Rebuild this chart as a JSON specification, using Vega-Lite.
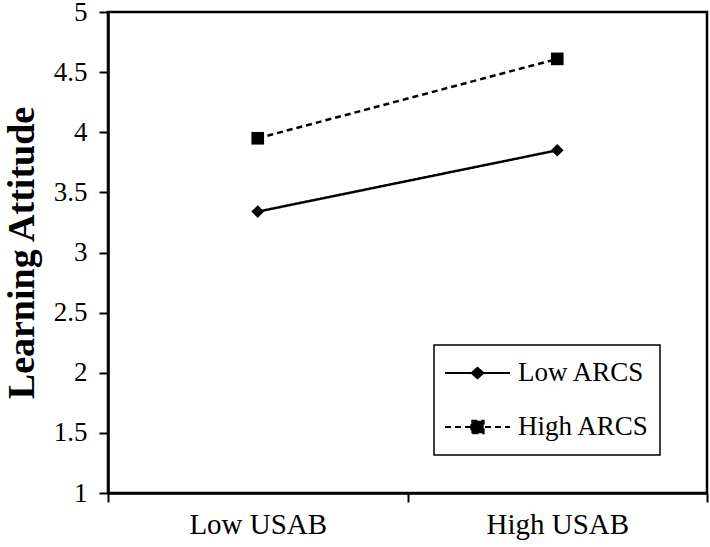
{
  "$schema": "https://vega.github.io/schema/vega-lite/v6.json",
  "width": 599,
  "height": 481,
  "autosize": {"type": "none"},
  "padding": {"left": 108, "top": 12, "right": 3, "bottom": 54},
  "background": "white",
  "config": {
    "view": {"stroke": "black", "strokeWidth": 2.5},
    "font": "Liberation Serif",
    "legend": {
      "title": null,
      "orient": "none",
      "legendX": 326,
      "legendY": 333,
      "strokeColor": "black",
      "strokeWidth": 1.5,
      "fillColor": "white",
      "padding": 10,
      "symbolSize": 4225,
      "symbolStrokeWidth": 2,
      "clipHeight": 36,
      "rowPadding": 18,
      "labelOffset": 7,
      "labelFont": "Liberation Serif",
      "labelFontSize": 27,
      "labelColor": "black",
      "labelLimit": 300
    }
  },
  "data": {
    "values": [
      {"usab": "Low USAB", "series": "Low ARCS", "value": 3.34},
      {"usab": "High USAB", "series": "Low ARCS", "value": 3.85},
      {"usab": "Low USAB", "series": "High ARCS", "value": 3.95},
      {"usab": "High USAB", "series": "High ARCS", "value": 4.61}
    ]
  },
  "encoding": {
    "x": {
      "field": "usab",
      "type": "nominal",
      "sort": ["Low USAB", "High USAB"],
      "scale": {"type": "band", "domain": ["Low USAB", "High USAB"], "paddingInner": 0, "paddingOuter": 0},
      "axis": {
        "title": null,
        "labelAngle": 0,
        "tickBand": "extent",
        "domainColor": "black",
        "domainWidth": 2.5,
        "tickColor": "black",
        "tickWidth": 2,
        "tickSize": 9,
        "labelFont": "Liberation Serif",
        "labelFontSize": 29,
        "labelColor": "black",
        "labelPadding": 8,
        "grid": false
      }
    },
    "y": {
      "field": "value",
      "type": "quantitative",
      "scale": {"domain": [1, 5], "nice": false, "zero": false},
      "axis": {
        "title": "Learning  Attitude",
        "titleFont": "Liberation Serif",
        "titleFontSize": 38,
        "titleFontWeight": "bold",
        "titleColor": "black",
        "titlePadding": 12,
        "values": [1, 1.5, 2, 2.5, 3, 3.5, 4, 4.5, 5],
        "format": "~g",
        "domainColor": "black",
        "domainWidth": 2.5,
        "tickColor": "black",
        "tickWidth": 2,
        "tickSize": 9,
        "labelFont": "Liberation Serif",
        "labelFontSize": 27,
        "labelColor": "black",
        "labelPadding": 12,
        "grid": false
      }
    }
  },
  "resolve": {
    "scale": {"shape": "independent"},
    "legend": {"shape": "independent", "strokeDash": "independent"}
  },
  "layer": [
    {
      "mark": {"type": "line", "color": "black", "strokeWidth": 2.5},
      "encoding": {
        "strokeDash": {
          "field": "series",
          "type": "nominal",
          "scale": {"domain": ["Low ARCS", "High ARCS"], "range": [[1, 0], [6, 4]]},
          "legend": null
        }
      }
    },
    {
      "mark": {"type": "point", "filled": true, "fill": "black", "stroke": "black", "strokeWidth": 2, "opacity": 0},
      "encoding": {
        "shape": {
          "field": "series",
          "type": "nominal",
          "scale": {
            "domain": ["Low ARCS", "High ARCS"],
            "range": [
              "M-1,0L1,0M0,-0.16L0.18,0L0,0.16L-0.18,0Z",
              "M-1,0L1,0M-0.19,-0.19L0.19,-0.19L0.19,0.19L-0.19,0.19Z"
            ]
          },
          "legend": {}
        },
        "strokeDash": {
          "field": "series",
          "type": "nominal",
          "legend": {}
        },
        "size": {"value": 160}
      }
    },
    {
      "mark": {"type": "point", "filled": true, "color": "black", "opacity": 1},
      "encoding": {
        "shape": {
          "field": "series",
          "type": "nominal",
          "scale": {"domain": ["Low ARCS", "High ARCS"], "range": ["diamond", "square"]},
          "legend": null
        },
        "size": {"value": 160}
      }
    }
  ]
}
